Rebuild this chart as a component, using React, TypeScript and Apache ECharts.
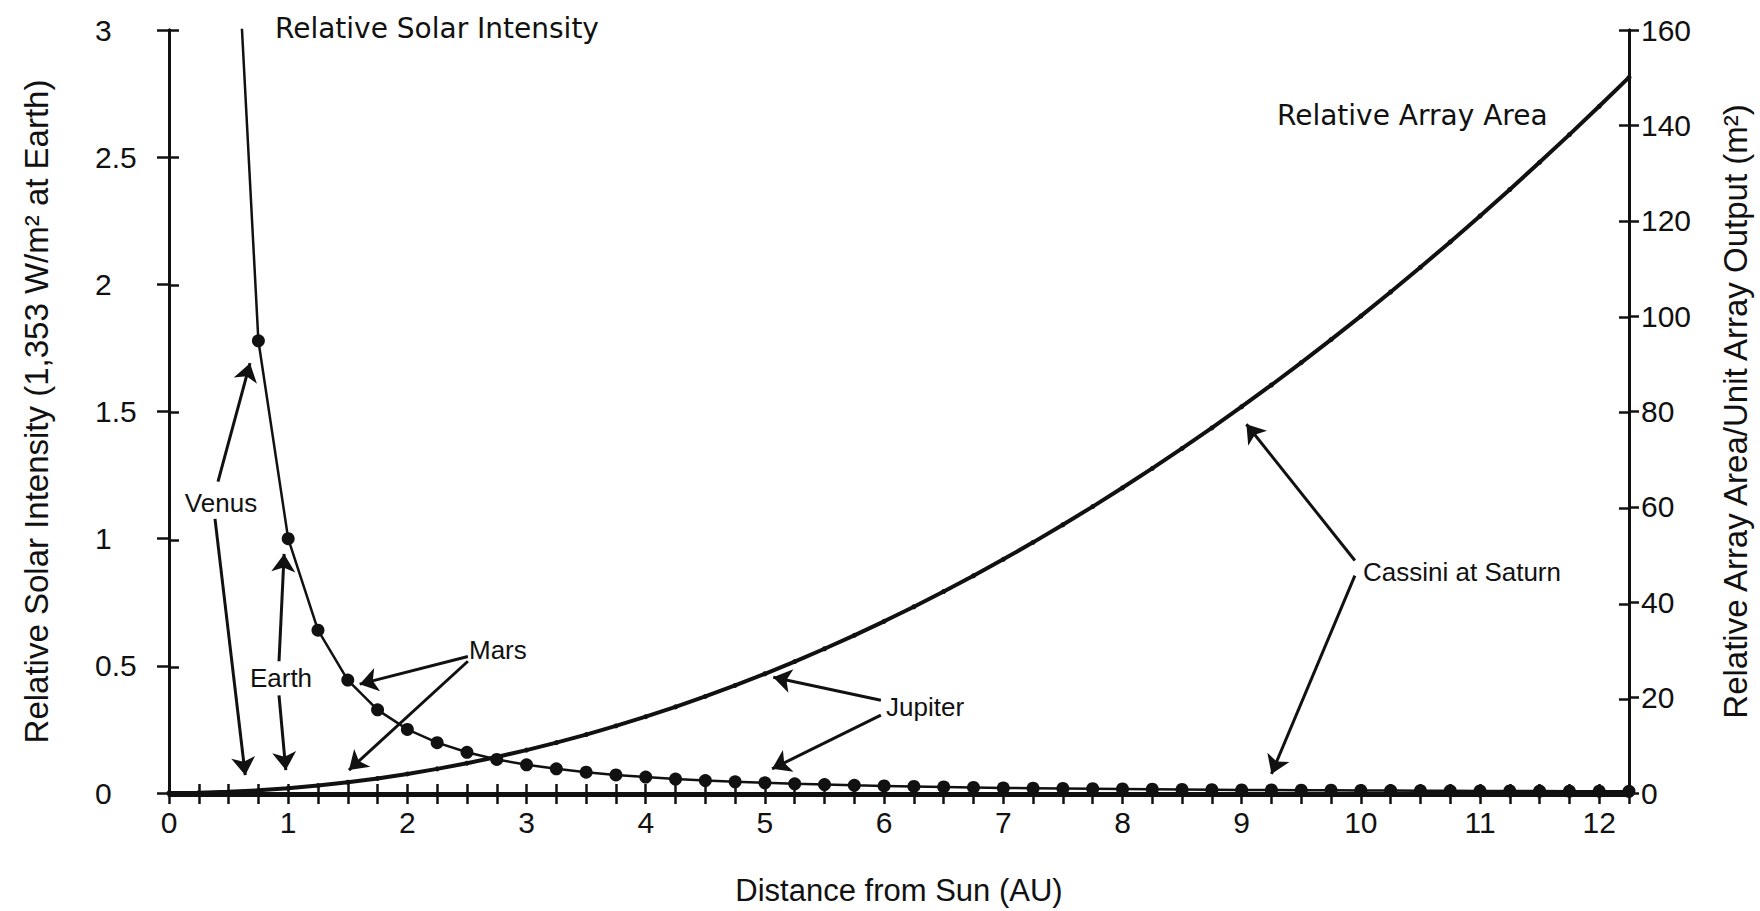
import React, { useEffect, useRef } from "react";
import * as echarts from "echarts";

// Distance from Sun (AU), one point every 0.25 AU
const distances = [
  0, 0.25, 0.5, 0.75, 1, 1.25, 1.5, 1.75, 2, 2.25, 2.5, 2.75, 3, 3.25, 3.5, 3.75,
  4, 4.25, 4.5, 4.75, 5, 5.25, 5.5, 5.75, 6, 6.25, 6.5, 6.75, 7, 7.25, 7.5, 7.75,
  8, 8.25, 8.5, 8.75, 9, 9.25, 9.5, 9.75, 10, 10.25, 10.5, 10.75, 11, 11.25, 11.5,
  11.75, 12, 12.25,
];

// Relative solar intensity (1 = 1,353 W/m² at Earth)
const solarIntensity = [
  null, 16, 4, 1.778, 1, 0.64, 0.444, 0.327, 0.25, 0.198, 0.16, 0.132, 0.111, 0.095,
  0.082, 0.071, 0.0625, 0.055, 0.049, 0.044, 0.04, 0.036, 0.033, 0.03, 0.028, 0.026,
  0.024, 0.022, 0.02, 0.019, 0.018, 0.017, 0.016, 0.015, 0.014, 0.013, 0.012, 0.012,
  0.011, 0.011, 0.01, 0.0095, 0.0091, 0.0087, 0.0083, 0.0079, 0.0076, 0.0072, 0.0069,
  0.0067,
];

// Relative array area / unit array output (m²)
const arrayArea = [
  0, 0.06, 0.25, 0.56, 1, 1.56, 2.25, 3.06, 4, 5.06, 6.25, 7.56, 9, 10.56, 12.25,
  14.06, 16, 18.06, 20.25, 22.56, 25, 27.56, 30.25, 33.06, 36, 39.06, 42.25, 45.56,
  49, 52.56, 56.25, 60.06, 64, 68.06, 72.25, 76.56, 81, 85.56, 90.25, 95.06, 100,
  105.06, 110.25, 115.56, 121, 126.56, 132.25, 138.06, 144, 150.06,
];

// Annotation arrows: label, start and tip in (AU, relative intensity)
const arrowLabels = ["Venus", "Venus", "Earth", "Earth", "Mars", "Mars", "Jupiter", "Jupiter", "Cassini at Saturn", "Cassini at Saturn"];
const arrowStartX = [0.411, 0.386, 0.923, 0.923, 2.508, 2.508, 5.973, 5.973, 9.95, 9.95];
const arrowStartY = [1.224, 1.078, 0.518, 0.384, 0.537, 0.518, 0.365, 0.306, 0.914, 0.855];
const arrowTipX = [0.68, 0.64, 0.966, 0.98, 1.6, 1.51, 5.07, 5.06, 9.04, 9.25];
const arrowTipY = [1.69, 0.07, 0.94, 0.09, 0.428, 0.09, 0.455, 0.095, 1.45, 0.075];

const tickFont = "'Liberation Sans', Arial, Helvetica, sans-serif";
const titleFont = "'DejaVu Sans', 'Liberation Sans', sans-serif";
const INK = "#111";

export default function App() {
  const ref = useRef<HTMLDivElement>(null);

  useEffect(() => {
    if (!ref.current) return;
    const chart = echarts.init(ref.current, undefined, { renderer: "svg" });

    const intensityData = distances.map((d, i) => [d, solarIntensity[i]]);
    const areaData = distances.map((d, i) => [d, arrayArea[i]]);
    const arrowData = arrowLabels.map((_, i) => [
      { coord: [arrowStartX[i], arrowStartY[i]] },
      { coord: [arrowTipX[i], arrowTipY[i]] },
    ]);

    const gridBox = { left: 169, right: 131, top: 30, bottom: 116, containLabel: false };
    const lineStyle = { color: INK, width: 3 };
    const tickStyle = { color: INK, width: 2.5 };

    const baseX = { type: "value", min: 0, max: 12.25, interval: 0.25, position: "bottom", splitLine: { show: false } };
    const baseLeft = { type: "value", min: 0, max: 3, interval: 0.5, position: "left", splitLine: { show: false } };
    const baseRight = { type: "value", min: 0, max: 160, interval: 20, position: "right", splitLine: { show: false } };

    chart.setOption({
      animation: false,
      backgroundColor: "#fff",
      grid: [gridBox, { ...gridBox }],
      xAxis: [
        {
          ...baseX,
          gridIndex: 0,
          name: "Distance from Sun (AU)",
          nameLocation: "middle",
          nameGap: 82,
          nameTextStyle: { fontFamily: tickFont, fontSize: 31, color: INK },
          axisLine: { show: true, lineStyle },
          axisTick: { show: true, inside: false, length: 11, lineStyle: tickStyle },
          axisLabel: {
            show: true,
            margin: 14,
            fontFamily: tickFont,
            fontSize: 30,
            color: INK,
            formatter: (v: number) => (Number.isInteger(v) ? String(v) : ""),
          },
        },
        {
          ...baseX,
          gridIndex: 1,
          axisLine: { show: true, lineStyle },
          axisTick: { show: true, inside: true, length: 11, lineStyle: tickStyle },
          axisLabel: { show: false },
        },
      ],
      yAxis: [
        {
          ...baseLeft,
          gridIndex: 0,
          name: "Relative Solar Intensity (1,353 W/m² at Earth)",
          nameLocation: "middle",
          nameGap: 116,
          nameTextStyle: { fontFamily: tickFont, fontSize: 33, color: INK },
          axisLine: { show: true, lineStyle },
          axisTick: { show: true, inside: false, length: 12, lineStyle: tickStyle },
          axisLabel: { show: true, margin: 74, align: "left", fontFamily: tickFont, fontSize: 30, color: INK },
        },
        {
          ...baseRight,
          gridIndex: 0,
          name: "Relative Array Area/Unit Array Output (m²)",
          nameLocation: "middle",
          nameGap: 90,
          nameTextStyle: { fontFamily: tickFont, fontSize: 33, color: INK },
          axisLine: { show: true, lineStyle },
          axisTick: { show: true, inside: false, length: 10, lineStyle: tickStyle },
          axisLabel: { show: true, margin: 12, align: "left", fontFamily: tickFont, fontSize: 30, color: INK },
        },
        {
          ...baseLeft,
          gridIndex: 1,
          axisLine: { show: true, lineStyle },
          axisTick: { show: true, inside: true, length: 10, lineStyle: tickStyle },
          axisLabel: { show: false },
        },
        {
          ...baseRight,
          gridIndex: 1,
          axisLine: { show: true, lineStyle },
          axisTick: { show: true, inside: true, length: 10, lineStyle: tickStyle },
          axisLabel: { show: false },
        },
      ],
      series: [
        {
          name: "Relative Solar Intensity",
          type: "line",
          xAxisIndex: 0,
          yAxisIndex: 0,
          data: intensityData,
          clip: true,
          symbol: "circle",
          symbolSize: 13,
          showAllSymbol: true,
          lineStyle: { color: INK, width: 2.5 },
          itemStyle: { color: INK },
          markLine: {
            silent: true,
            symbol: ["none", "arrow"],
            symbolSize: 18,
            label: { show: false },
            lineStyle: { color: INK, width: 3, type: "solid" },
            itemStyle: { color: INK },
            data: arrowData,
          },
          z: 3,
        },
        {
          name: "Relative Array Area",
          type: "line",
          xAxisIndex: 0,
          yAxisIndex: 1,
          data: areaData,
          symbol: "circle",
          symbolSize: 5,
          showAllSymbol: true,
          lineStyle: { color: INK, width: 4 },
          itemStyle: { color: INK },
          z: 2,
        },
      ],
      graphic: [
        { type: "text", left: 275, top: 14, style: { text: "Relative Solar Intensity", font: `28px ${titleFont}`, fill: INK } },
        { type: "text", left: 1277, top: 101, style: { text: "Relative Array Area", font: `28px ${titleFont}`, fill: INK } },
        { type: "text", x: 221, y: 503, style: { text: "Venus", font: `26px ${tickFont}`, fill: INK, align: "center", verticalAlign: "middle" } },
        { type: "text", x: 281, y: 678, style: { text: "Earth", font: `26px ${tickFont}`, fill: INK, align: "center", verticalAlign: "middle" } },
        { type: "text", x: 469, y: 650, style: { text: "Mars", font: `26px ${tickFont}`, fill: INK, align: "left", verticalAlign: "middle" } },
        { type: "text", x: 886, y: 707, style: { text: "Jupiter", font: `26px ${tickFont}`, fill: INK, align: "left", verticalAlign: "middle" } },
        { type: "text", x: 1363, y: 572, style: { text: "Cassini at Saturn", font: `26px ${tickFont}`, fill: INK, align: "left", verticalAlign: "middle" } },
      ],
    });

    return () => chart.dispose();
  }, []);

  return (
    <div
      ref={ref}
      style={{ position: "absolute", left: 0, top: 0, width: 1760, height: 911, background: "#fff" }}
    />
  );
}
